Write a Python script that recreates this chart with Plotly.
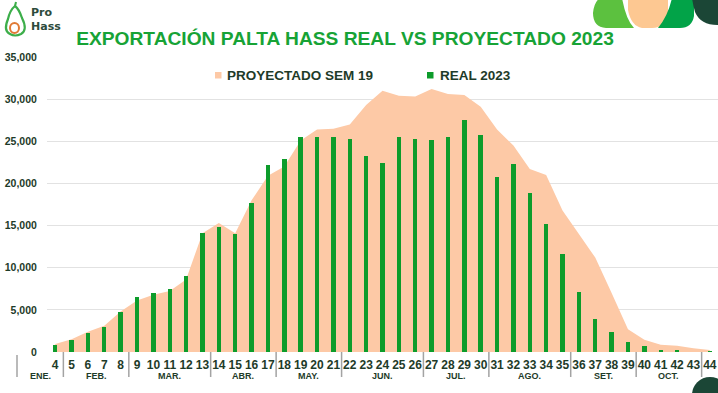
import plotly.graph_objects as go

# ---------------- data ----------------
weeks = [str(w) for w in range(4, 45)]
proyectado_sem19 = [950, 1500, 2400, 3100, 4800, 6100, 6800, 7250, 8600, 14100,
                    15300, 14100, 18000, 20900, 22000, 25100, 26400, 26500, 27000, 29300,
                    31000, 30400, 30300, 31200, 30600, 30500, 29100, 26400, 24500, 21700,
                    21000, 16800, 14000, 11200, 7000, 2700, 1450, 850, 750, 450, 250]
real_2023 = [800, 1400, 2300, 3000, 4800, 6500, 7050, 7450, 9050, 14100,
             14800, 13950, 17650, 22200, 22850, 25500, 25550, 25450, 25300, 23200,
             22400, 25550, 25300, 25200, 25500, 27500, 25750, 20750, 22250, 18900,
             15150, 11600, 7150, 3950, 2400, 1150, 750, 250, 150, 0, 100]
months = ["ENE.", "FEB.", "MAR.", "ABR.", "MAY.", "JUN.", "JUL.", "AGO.", "SET.", "OCT."]
month_first_week = [4, 5, 9, 14, 18, 22, 27, 31, 36, 40]
month_end_week = 44  # next group starts here (label cut off)
y_ticks = [0, 5000, 10000, 15000, 20000, 25000, 30000, 35000]
title_text = "EXPORTACIÓN PALTA HASS REAL VS PROYECTADO 2023"
legend_names = ["PROYECTADO SEM 19", "REAL 2023"]

# ---------------- styling ----------------
W, H = 718, 393
L, R, T, B = 47, 718, 57, 352
PEACH = "#fdc9a6"
GREEN = "#0d9c2b"
DARK = "#1e3b29"
TITLE_GREEN = "#17a336"
FONT = "Liberation Sans"
n = len(weeks)
cw = (R - L) / n


def px2x(px):
    return (px - L) / (R - L)


def px2y(py):
    return (B - py) / (B - T)


def idx_px(i):
    return L + (i + 0.5) * cw


fig = go.Figure()
fig.add_trace(go.Scatter(x=weeks, y=proyectado_sem19, mode="lines", fill="tozeroy",
                         line=dict(color=PEACH, width=0), fillcolor=PEACH,
                         name=legend_names[0], showlegend=False, yaxis="y"))
fig.add_trace(go.Bar(x=weeks, y=real_2023, marker=dict(color=GREEN, line=dict(width=0)),
                     width=0.27, name=legend_names[1], showlegend=False, yaxis="y2"))

ymax = 35000
fig.update_layout(
    width=W, height=H,
    margin=dict(l=L, r=W - R, t=T, b=H - B, pad=0),
    paper_bgcolor="white", plot_bgcolor="white",
    font=dict(family=FONT, color=DARK),
    showlegend=False,
    title=dict(text=title_text, x=345 / W, xanchor="center", y=1 - 38 / H, yanchor="middle",
               font=dict(family=FONT, size=19.2, color=TITLE_GREEN, weight="bold")),
    xaxis=dict(type="category", range=[-0.5, n - 0.5], showgrid=False, zeroline=False,
               showline=False, ticks="outside", ticklen=1.5, tickcolor="rgba(0,0,0,0)",
               ticklabeloverflow="allow",
               tickfont=dict(family=FONT, size=12, color=DARK, weight="bold")),
    yaxis=dict(range=[0, ymax], tickvals=y_ticks, tickformat=",d", showgrid=True,
               gridcolor="#e2e2e2", gridwidth=1, zeroline=False, showline=False,
               ticks="outside", ticklen=7, tickcolor="rgba(0,0,0,0)",
               tickfont=dict(family=FONT, size=10.5, color=DARK, weight="bold")),
    yaxis2=dict(range=[0, ymax], overlaying="y", visible=False),
    bargap=0,
)

shapes = []
annotations = []

# month separators and labels
boundaries_px = [17] + [idx_px(weeks.index(str(w)) - 0.5) for w in month_first_week[1:]] \
    + [idx_px(weeks.index(str(month_end_week)) - 0.5)]
for k, bpx in enumerate(boundaries_px):
    y0 = 355 if k == 0 else B
    shapes.append(dict(type="line", xref="paper", yref="paper", x0=px2x(bpx), x1=px2x(bpx),
                       y0=px2y(y0), y1=px2y(377), line=dict(color="#a3a3a3", width=1.5)))
for k, m in enumerate(months):
    cx = (boundaries_px[k] + boundaries_px[k + 1]) / 2
    annotations.append(dict(text=m, xref="paper", yref="paper", x=px2x(cx), y=px2y(376),
                            xanchor="center", yanchor="middle", showarrow=False,
                            font=dict(family=FONT, size=9, color=DARK, weight="bold")))

# legend (squares + text)
leg = [(215, 225, PEACH, legend_names[0]), (427, 437.5, GREEN, legend_names[1])]
for sx, tx, col, name in leg:
    shapes.append(dict(type="rect", xref="paper", yref="paper", x0=px2x(sx), x1=px2x(sx + 6.5),
                       y0=px2y(78.5), y1=px2y(72), fillcolor=col, line=dict(width=0)))
    annotations.append(dict(text=name, xref="paper", yref="paper", x=px2x(tx), y=px2y(75),
                            xanchor="left", yanchor="middle", showarrow=False,
                            font=dict(family=FONT, size=13.5, color=DARK, weight="bold")))


def path(pts):
    out = []
    for p in pts:
        if isinstance(p, str):
            out.append(p)
        else:
            out.append(f"{px2x(p[0]):.5f},{px2y(p[1]):.5f}")
    return " ".join(out)


deco = [
    ("#5cc13f", ["M", (600, -2), "L", (622, -2), "Q", (626, 20), (634, 28), "L", (606, 28),
                 "Q", (593, 27), (593, 13), "Q", (594, 2), (600, -2), "Z"]),
    ("#fdc892", ["M", (628, -2), "L", (668, -2), "L", (668, 14), "Q", (666, 28), (652, 28),
                 "L", (642, 28), "Q", (631, 26), (628, 10), "Z"]),
    ("#02a348", ["M", (672, -2), "L", (694, -2), "L", (694, 16), "Q", (692, 28), (680, 28),
                 "L", (658, 28), "Q", (668, 16), (672, -2), "Z"]),
    ("#1b4636", ["M", (692, -2), "L", (720, -2), "L", (720, 25), "Q", (701, 26), (695, 12),
                 "Q", (693, 5), (692, -2), "Z"]),
]
for col, pts in deco:
    shapes.append(dict(type="path", xref="paper", yref="paper", path=path(pts),
                       fillcolor=col, line=dict(width=0), layer="above"))
shapes.append(dict(type="circle", xref="paper", yref="paper", x0=px2x(692), x1=px2x(728),
                   y0=px2y(413), y1=px2y(377), fillcolor="#1b4636", line=dict(width=0)))

# logo
shapes.append(dict(type="path", xref="paper", yref="paper",
                   path=path(["M", (15, 6), "Q", (10, 10), (8, 19), "Q", (3, 31), (10, 34),
                              "Q", (15, 37), (21, 34), "Q", (28, 30), (22, 18),
                              "Q", (19, 9), (15, 6), "Z"]),
                   fillcolor="rgba(0,0,0,0)", line=dict(color="#3cae4a", width=2.2)))
shapes.append(dict(type="circle", xref="paper", yref="paper", x0=px2x(10), x1=px2x(19),
                   y0=px2y(33), y1=px2y(23), fillcolor="rgba(0,0,0,0)",
                   line=dict(color="#e07a35", width=2)))
shapes.append(dict(type="line", xref="paper", yref="paper", x0=px2x(15), x1=px2x(16),
                   y0=px2y(6), y1=px2y(2), line=dict(color="#3cae4a", width=2)))
annotations.append(dict(text="Pro<br>Hass", xref="paper", yref="paper", x=px2x(29), y=px2y(20),
                        xanchor="left", yanchor="middle", align="left", showarrow=False,
                        font=dict(family="DejaVu Sans", size=11, color="#2d4b3c", weight="bold")))

fig.update_layout(shapes=shapes, annotations=annotations)
fig.write_html("out.html", config={"displayModeBar": False},
               post_script="document.body.style.margin='0';document.body.style.overflow='hidden';")
